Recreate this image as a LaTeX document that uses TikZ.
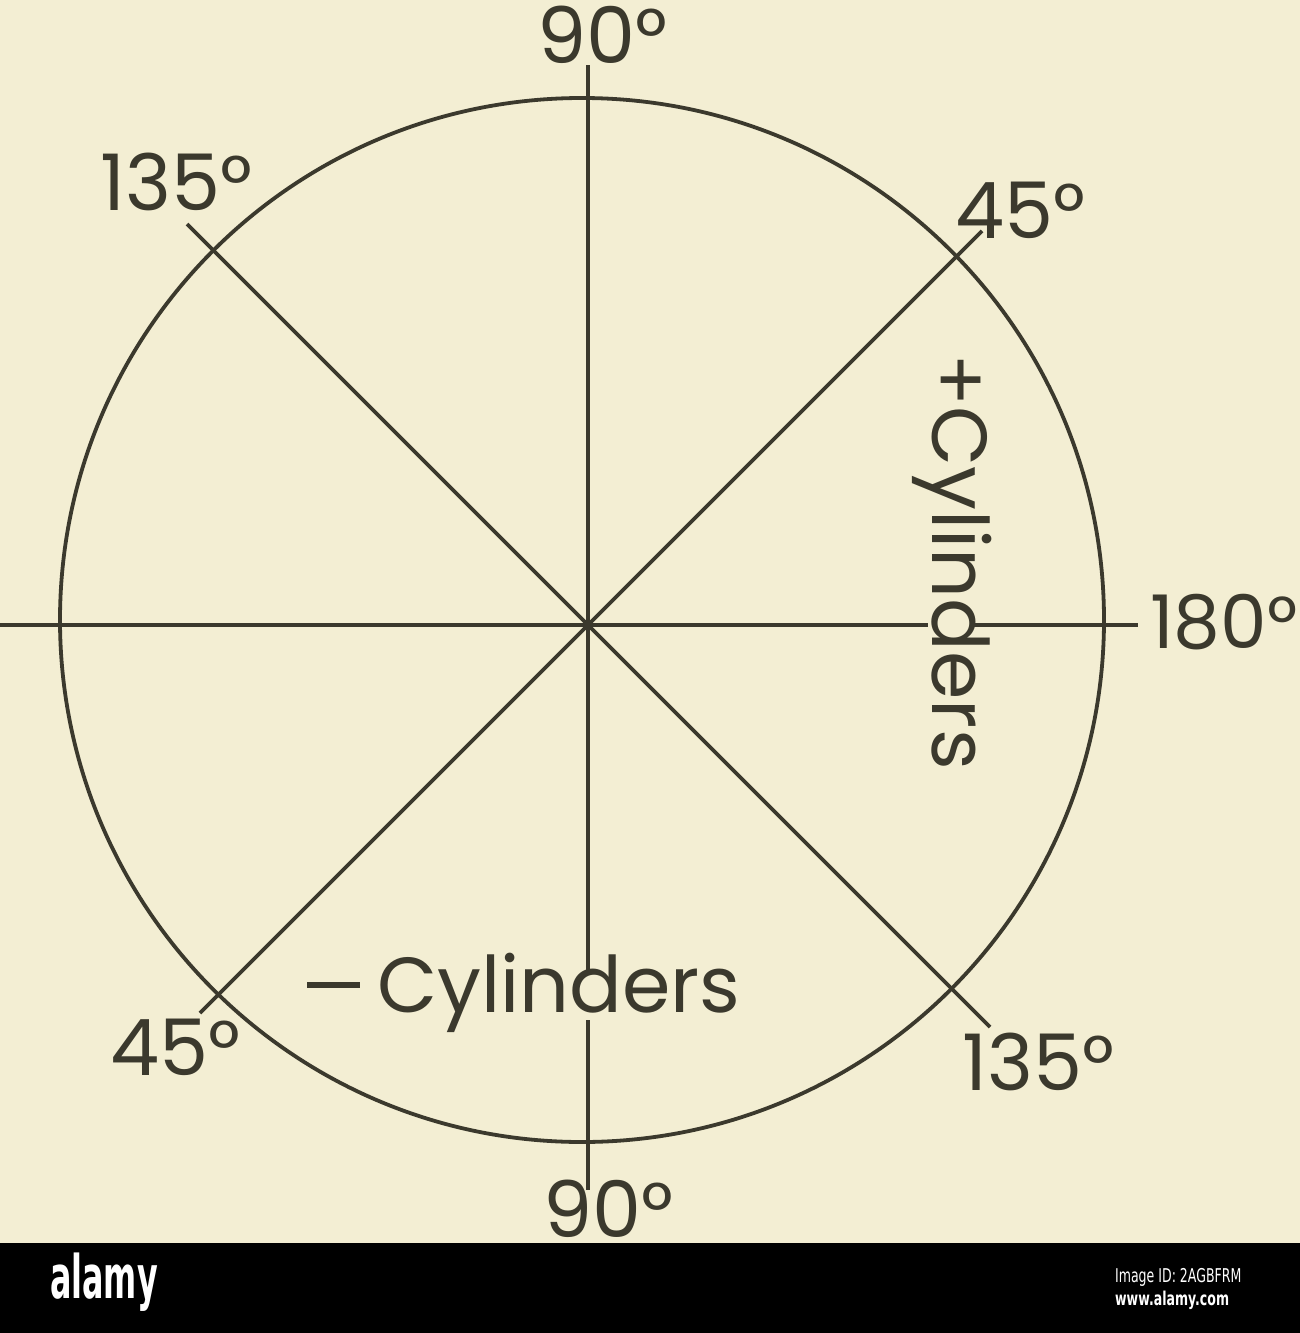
\documentclass[tikz,border=0pt]{standalone}
\usepackage{fontspec}
\setmainfont{Poppins}
\newfontfamily\markfont{DejaVu Sans}
\definecolor{paper}{HTML}{F3EED3}
\definecolor{ink}{HTML}{3B392D}
\begin{document}
\begin{tikzpicture}[x=1pt,y=-1pt,
  lbl/.style={font=\fontsize{78}{78}\selectfont, text=ink, inner sep=0pt, anchor=base west},
  ln/.style={draw=ink, line width=3.8pt},
  bandtext/.style={text=white, inner sep=0pt}]
\useasboundingbox (0,0) rectangle (1300,1333);
\fill[paper] (0,0) rectangle (1300,1243);
\fill[black] (0,1243) rectangle (1300,1333);
% geometry
\coordinate (C) at (582,620);
\coordinate (O) at (588,625);
\coordinate (vt) at (588,65);
\coordinate (vg1) at (588,970);
\coordinate (vg2) at (588,1020);
\coordinate (vb) at (588,1190);
\coordinate (hl) at (0,625);
\coordinate (hg1) at (928,625);
\coordinate (hg2) at (974,625);
\coordinate (hr) at (1138,625);
\coordinate (d1a) at (187,224);
\coordinate (d1b) at (990,1027);
\coordinate (d2a) at (982,231);
\coordinate (d2b) at (200,1013);
\draw[ln] (C) circle[radius=522];
\draw[ln] (vt) -- (vg1);
\draw[ln] (vg2) -- (vb);
\draw[ln] (hl) -- (hg1);
\draw[ln] (hg2) -- (hr);
\draw[ln] (d1a) -- (d1b);
\draw[ln] (d2a) -- (d2b);
% labels
\node[lbl] (t90) at (537,63) {90°};
\node[lbl] (t135) at (100,210) {135°};
\node[lbl] (t45) at (955,238) {45°};
\node[lbl, font=\fontsize{74}{74}\selectfont] (t180) at (1150,648) {180°};
\node[lbl, rotate=-90] (pc) at (932,353) {+Cylinders};
\node[lbl] (mc) at (307,1012) {\raisebox{24pt}{\rule{53pt}{6.5pt}}\hspace{17pt}Cylinders};
\node[lbl] (b45) at (110,1075) {45°};
\node[lbl] (b135) at (962,1090) {135°};
\node[lbl] (b90) at (543,1237) {90°};
% stock band
\node[bandtext, font=\markfont\bfseries\fontsize{60}{60}\selectfont, xscale=0.53, anchor=base west] (al) at (50,1298) {alamy};
\node[bandtext, font=\markfont\fontsize{19}{19}\selectfont, xscale=0.66, anchor=base west] (iid) at (1115,1282) {Image ID: 2AGBFRM};
\node[bandtext, font=\markfont\bfseries\fontsize{19}{19}\selectfont, xscale=0.66, anchor=base west] (www) at (1115,1305) {www.alamy.com};
\end{tikzpicture}
\end{document}
